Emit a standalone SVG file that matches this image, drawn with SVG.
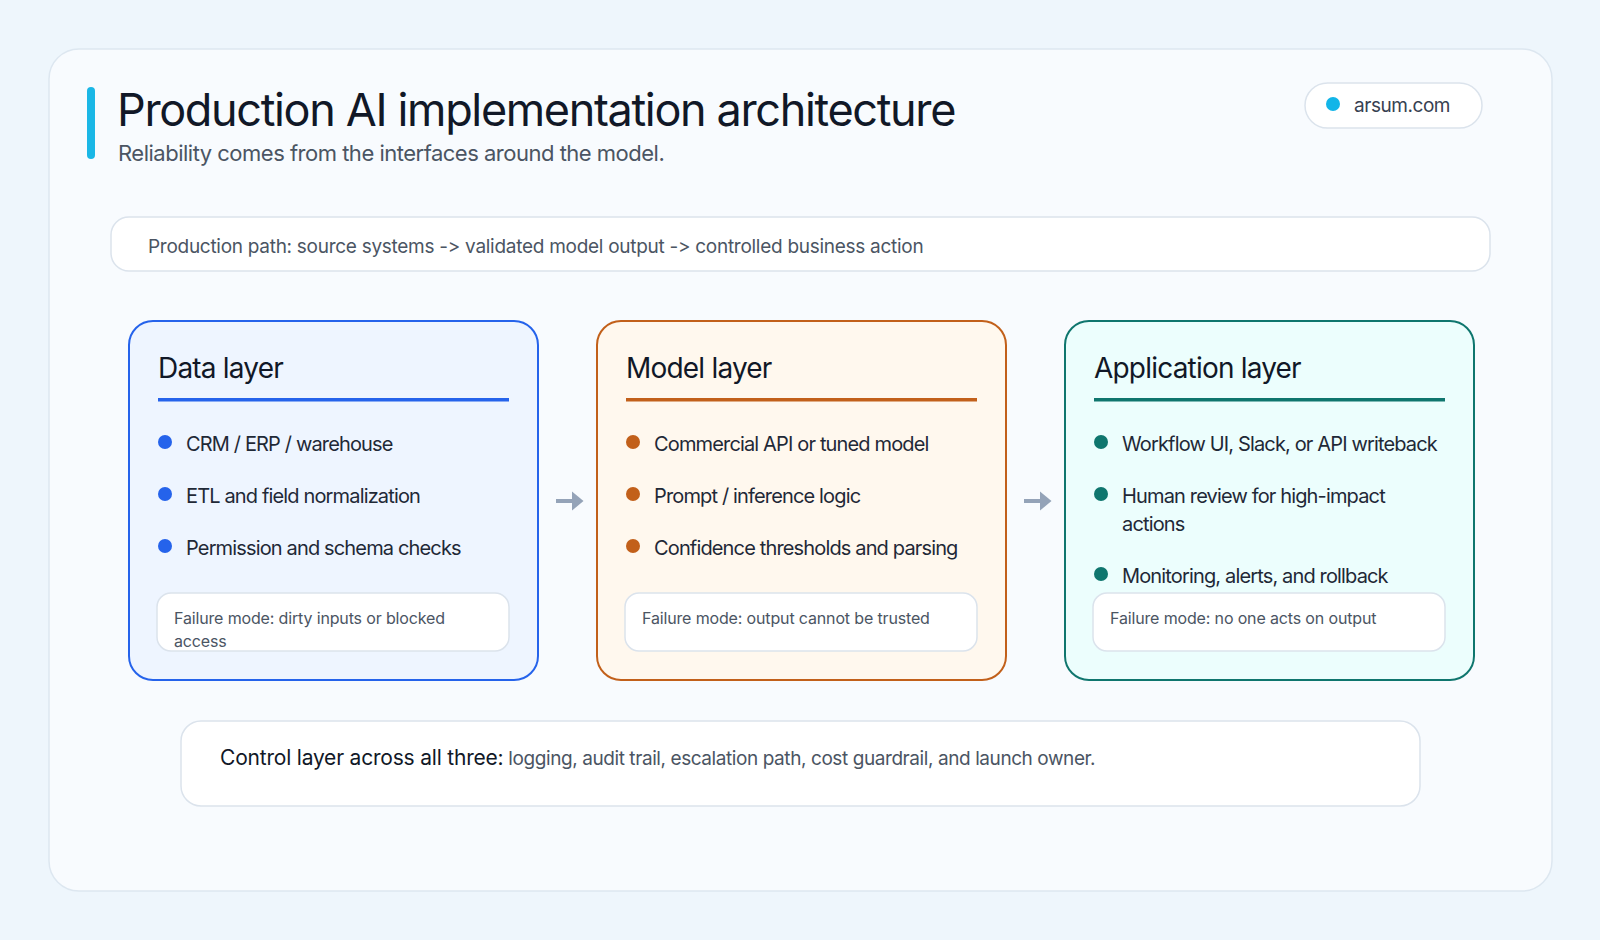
<svg xmlns="http://www.w3.org/2000/svg" width="1600" height="940" viewBox="0 0 1600 940">
  <defs>
    <marker id="arr" markerWidth="12" markerHeight="20" refX="0.5" refY="10" orient="auto" markerUnits="userSpaceOnUse">
      <path d="M0,0 L12,10 L0,20 Z" fill="#94a3b8"/>
    </marker>
  </defs>
  <style>
    text { font-family: Inter, "Liberation Sans", sans-serif; font-feature-settings: "calt" 0, "liga" 0; font-variant-ligatures: none; }
    .title { font-size: 45px; fill: #111827; font-weight: 400; letter-spacing: -1.35px; }
    .sub { font-size: 22px; fill: #4b5563; letter-spacing: -0.5px; }
    .pilltext { font-size: 19px; fill: #374151; letter-spacing: -0.45px; }
    .path { font-size: 19px; fill: #4b5563; letter-spacing: -0.28px; }
    .ctitle { font-size: 28px; fill: #111827; letter-spacing: -0.8px; }
    .item { font-size: 20px; fill: #1f2937; letter-spacing: -0.85px; }
    .fail { font-size: 16px; fill: #4b5563; letter-spacing: -0.15px; }
    .fbox { fill: #ffffff; stroke: #dbe3ec; stroke-width: 1.5; }
    .ctrl { font-size: 21px; fill: #111827; letter-spacing: -0.2px; }
    .ctrl2 { font-size: 19px; fill: #4b5563; letter-spacing: -0.42px; }
    .conn { stroke: #94a3b8; stroke-width: 4; fill: none; }
  </style>
  <rect x="0" y="0" width="1600" height="940" fill="#eef6fc"/>
  <rect x="49" y="49" width="1503" height="842" rx="30" fill="#f8fbfe" stroke="#dde7f0" stroke-width="1.5"/>

  <g id="header">
    <rect x="87" y="87" width="8" height="72" rx="4" fill="#1ab7e6"/>
    <text class="title" x="117" y="126">Production AI implementation architecture</text>
    <text class="sub" x="118" y="161">Reliability comes from the interfaces around the model.</text>
  </g>

  <g id="pill">
    <rect x="1305" y="83" width="177" height="45" rx="22.5" fill="#ffffff" stroke="#dbe3ec" stroke-width="1.5"/>
    <circle cx="1333" cy="104" r="7" fill="#12b5e8"/>
    <text class="pilltext" x="1354" y="112">arsum.com</text>
  </g>

  <g id="path-banner">
    <rect x="111" y="217" width="1379" height="54" rx="18" fill="#ffffff" stroke="#dbe3ec" stroke-width="1.5"/>
    <text class="path" x="148" y="253">Production path: source systems -&gt; validated model output -&gt; controlled business action</text>
  </g>

  <g id="data-layer">
    <rect x="129" y="321" width="409" height="359" rx="24" fill="#eef5ff" stroke="#2563eb" stroke-width="2"/>
    <text class="ctitle" x="158" y="378">Data layer</text>
    <rect x="158" y="398" width="351" height="3.5" fill="#2563eb"/>
    <circle cx="165" cy="442" r="7" fill="#2563eb"/>
    <text class="item" x="186" y="451">CRM / ERP / warehouse</text>
    <circle cx="165" cy="494" r="7" fill="#2563eb"/>
    <text class="item" x="186" y="503">ETL and field normalization</text>
    <circle cx="165" cy="546" r="7" fill="#2563eb"/>
    <text class="item" x="186" y="555">Permission and schema checks</text>
    <rect class="fbox" x="157" y="593" width="352" height="58" rx="14"/>
    <text class="fail" x="174" y="624">Failure mode: dirty inputs or blocked</text>
    <text class="fail" x="174" y="647">access</text>
  </g>

  <g id="model-layer">
    <rect x="597" y="321" width="409" height="359" rx="24" fill="#fff8ee" stroke="#c2601a" stroke-width="2"/>
    <text class="ctitle" x="626" y="378">Model layer</text>
    <rect x="626" y="398" width="351" height="3.5" fill="#c2601a"/>
    <circle cx="633" cy="442" r="7" fill="#c2601a"/>
    <text class="item" x="654" y="451">Commercial API or tuned model</text>
    <circle cx="633" cy="494" r="7" fill="#c2601a"/>
    <text class="item" x="654" y="503">Prompt / inference logic</text>
    <circle cx="633" cy="546" r="7" fill="#c2601a"/>
    <text class="item" x="654" y="555">Confidence thresholds and parsing</text>
    <rect class="fbox" x="625" y="593" width="352" height="58" rx="14"/>
    <text class="fail" x="642" y="624">Failure mode: output cannot be trusted</text>
  </g>

  <g id="application-layer">
    <rect x="1065" y="321" width="409" height="359" rx="24" fill="#ecfefd" stroke="#0f766e" stroke-width="2"/>
    <text class="ctitle" x="1094" y="378">Application layer</text>
    <rect x="1094" y="398" width="351" height="3.5" fill="#0f766e"/>
    <circle cx="1101" cy="442" r="7" fill="#0f766e"/>
    <text class="item" x="1122" y="451">Workflow UI, Slack, or API writeback</text>
    <circle cx="1101" cy="494" r="7" fill="#0f766e"/>
    <text class="item" x="1122" y="503">Human review for high-impact</text>
    <text class="item" x="1122" y="531">actions</text>
    <circle cx="1101" cy="574" r="7" fill="#0f766e"/>
    <text class="item" x="1122" y="583">Monitoring, alerts, and rollback</text>
    <rect class="fbox" x="1093" y="593" width="352" height="58" rx="14"/>
    <text class="fail" x="1110" y="624">Failure mode: no one acts on output</text>
  </g>

  <g id="connectors">
    <line class="conn" x1="556" y1="501" x2="572" y2="501" marker-end="url(#arr)"/>
    <line class="conn" x1="1024" y1="501" x2="1040" y2="501" marker-end="url(#arr)"/>
  </g>

  <g id="control-layer">
    <rect x="181" y="721" width="1239" height="85" rx="20" fill="#ffffff" stroke="#dbe3ec" stroke-width="1.5"/>
    <text x="220" y="765"><tspan class="ctrl">Control layer across all three:</tspan><tspan class="ctrl2"> logging, audit trail, escalation path, cost guardrail, and launch owner.</tspan></text>
  </g>
</svg>
